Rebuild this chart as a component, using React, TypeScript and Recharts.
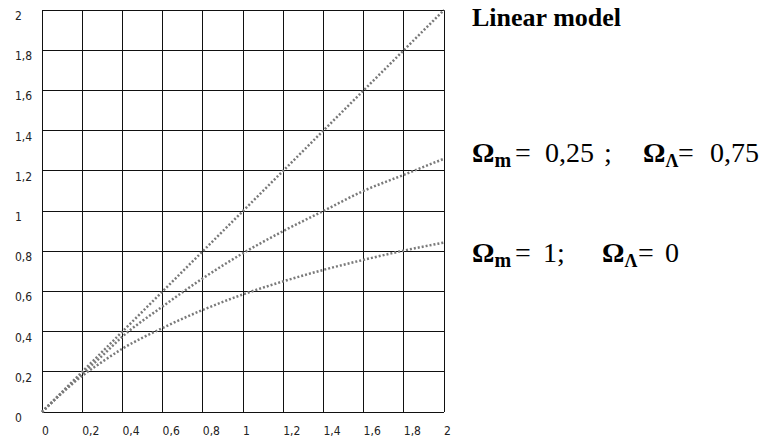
import React from 'react';
import { LineChart, Line, XAxis, YAxis, CartesianGrid } from 'recharts';

// redshift-like abscissa, distances
const xValues = [0, 0.1, 0.2, 0.3, 0.4, 0.6, 0.8, 1.0, 1.2, 1.4, 1.6, 1.8, 2.0];
const linearModel = [0, 0.1, 0.2, 0.3, 0.4, 0.6, 0.8, 1.0, 1.2, 1.4, 1.6, 1.8, 2.0];
const lambdaModel = [0, 0.097, 0.19, 0.28, 0.375, 0.525, 0.665, 0.79, 0.9, 1.0, 1.1, 1.18, 1.26];
const matterModel = [0, 0.095, 0.18, 0.25, 0.315, 0.418, 0.508, 0.585, 0.65, 0.707, 0.757, 0.803, 0.843];

const xTicks = [0, 0.2, 0.4, 0.6, 0.8, 1, 1.2, 1.4, 1.6, 1.8, 2];
const yTicks = [0, 0.2, 0.4, 0.6, 0.8, 1, 1.2, 1.4, 1.6, 1.8, 2];

const data = xValues.map((x, i) => ({
    x,
    linear: linearModel[i],
    lambda: lambdaModel[i],
    matter: matterModel[i],
}));

const fmt = (v: number) => (Number.isInteger(v) ? String(v) : v.toFixed(1).replace('.', ','));

const tickStyle = { fontFamily: "'Liberation Sans Narrow', 'DejaVu Sans Condensed', sans-serif" };

const XTick = (props: any) => {
    const { x, payload } = props;
    return (
        <text x={x} y={435} textAnchor="start" fontSize={12} fill="#222" style={tickStyle}>
            {fmt(payload.value)}
        </text>
    );
};

const YTick = (props: any) => {
    const { y, payload } = props;
    return (
        <text x={15} y={y + 10} textAnchor="start" fontSize={12} fill="#222" style={tickStyle}>
            {fmt(payload.value)}
        </text>
    );
};

const serifStyle = { fontFamily: "'Liberation Serif', 'Times New Roman', serif" };

export default function App() {
    return (
        <div style={{ position: 'absolute', left: 0, top: 0, width: 768, height: 439, background: '#fff' }}>
            <LineChart
                width={768}
                height={439}
                data={data}
                margin={{ top: 10, right: 324, left: 0, bottom: 0 }}
            >
                <CartesianGrid stroke="#111" strokeWidth={1} shapeRendering="crispEdges" />
                <XAxis
                    dataKey="x"
                    type="number"
                    domain={[0, 2]}
                    ticks={xTicks}
                    height={27}
                    axisLine={false}
                    tickLine={false}
                    tick={<XTick />}
                    interval={0}
                />
                <YAxis
                    type="number"
                    domain={[0, 2]}
                    ticks={yTicks}
                    width={42}
                    axisLine={false}
                    tickLine={false}
                    tick={<YTick />}
                    interval={0}
                />
                <Line dataKey="linear" type="monotone" stroke="#7a7a7a" strokeWidth={2.5} strokeDasharray="2 2" dot={false} isAnimationActive={false} />
                <Line dataKey="lambda" type="monotone" stroke="#7a7a7a" strokeWidth={2.5} strokeDasharray="2 2" dot={false} isAnimationActive={false} />
                <Line dataKey="matter" type="monotone" stroke="#7a7a7a" strokeWidth={2.5} strokeDasharray="2 2" dot={false} isAnimationActive={false} />
            </LineChart>
            <svg width={768} height={439} style={{ position: 'absolute', left: 0, top: 0, pointerEvents: 'none' }}>
                <text x={472} y={26} style={serifStyle} fontWeight="bold" fontSize={26} fill="#000">
                    Linear model
                </text>
                <text y={162} style={serifStyle} fontSize={28} fill="#000">
                    <tspan x={472} fontWeight="bold">Ω</tspan>
                    <tspan fontWeight="bold" fontSize={20} dy={5}>m</tspan>
                    <tspan x={515} dy={-5}>=</tspan>
                    <tspan x={545}>0,25</tspan>
                    <tspan x={604}>;</tspan>
                    <tspan x={643} fontWeight="bold">Ω</tspan>
                    <tspan fontWeight="bold" fontSize={18} dy={5}>Λ</tspan>
                    <tspan x={678} dy={-5}>=</tspan>
                    <tspan x={710}>0,75</tspan>
                </text>
                <text y={262} style={serifStyle} fontSize={28} fill="#000">
                    <tspan x={472} fontWeight="bold">Ω</tspan>
                    <tspan fontWeight="bold" fontSize={20} dy={5}>m</tspan>
                    <tspan x={515} dy={-5}>=</tspan>
                    <tspan x={543}>1;</tspan>
                    <tspan x={602} fontWeight="bold">Ω</tspan>
                    <tspan fontWeight="bold" fontSize={18} dy={5}>Λ</tspan>
                    <tspan x={638} dy={-5}>=</tspan>
                    <tspan x={665}>0</tspan>
                </text>
            </svg>
        </div>
    );
}
